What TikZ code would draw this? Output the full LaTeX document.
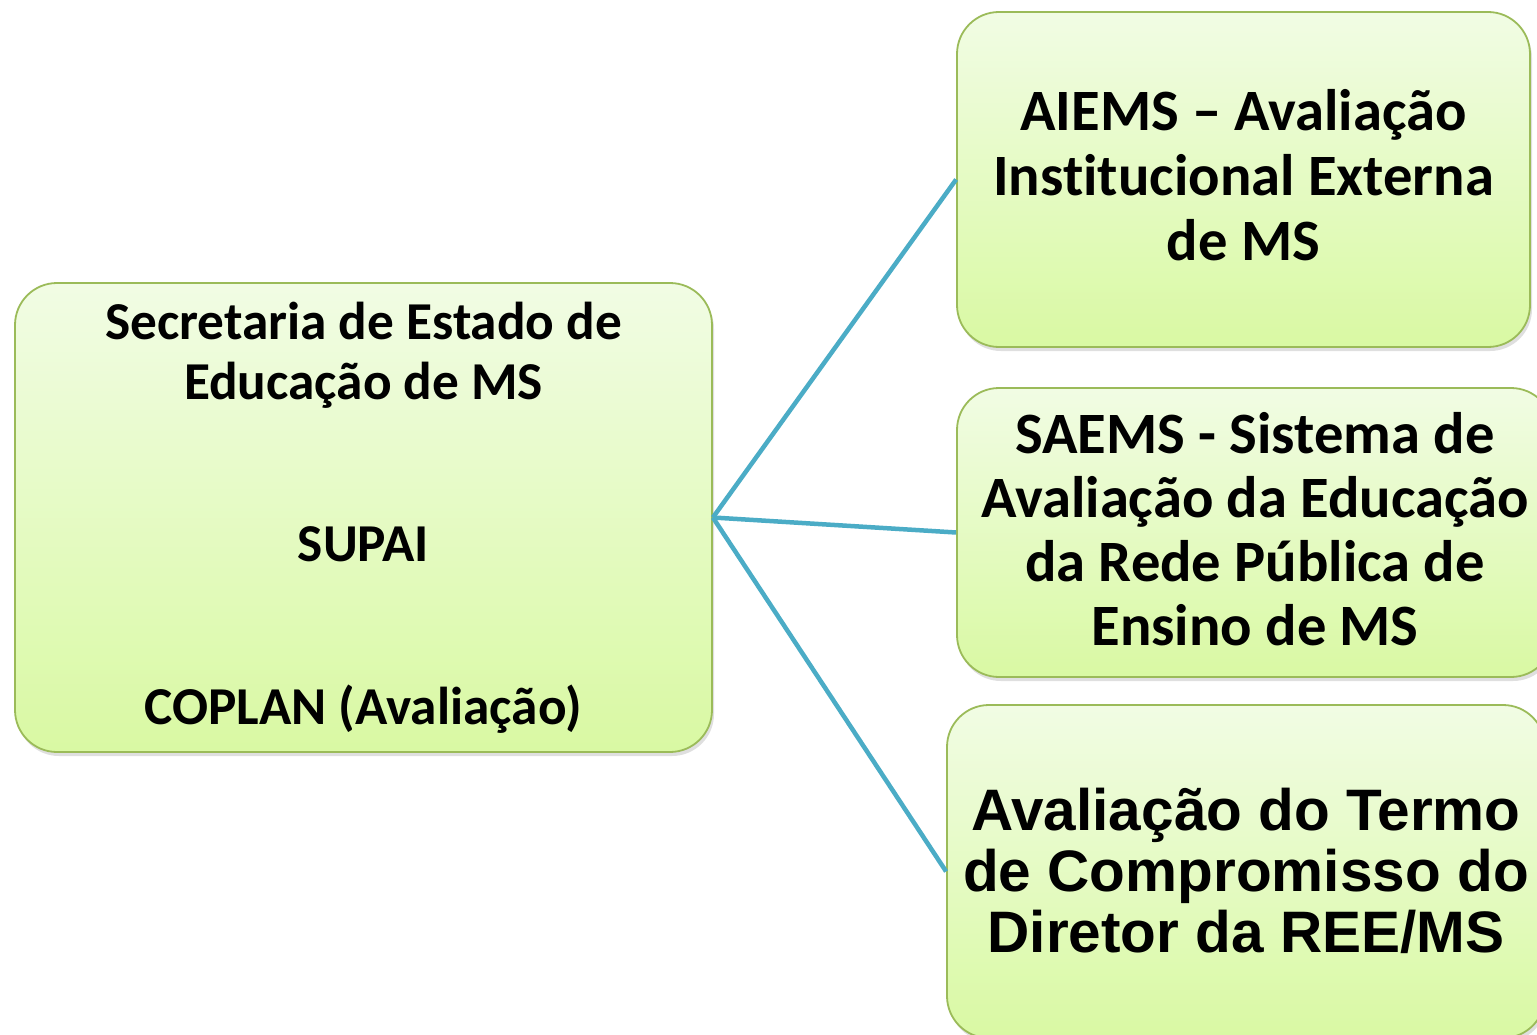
\documentclass[tikz,border=0pt]{standalone}
\usepackage{fontspec}
\newfontfamily\calfont[Ligatures=NoCommon]{Carlito}
\newfontfamily\arfont{Liberation Sans}
\usetikzlibrary{shadows}
\definecolor{boxtop}{HTML}{F1FCE4}
\definecolor{boxbot}{HTML}{D9F9A3}
\definecolor{boxline}{HTML}{9BBB59}
\definecolor{linkc}{HTML}{4BACC6}
\tikzset{
  gbox/.style={draw=boxline, line width=1.8pt, rounded corners=42pt,
    top color=boxtop, bottom color=boxbot, align=center, inner sep=0pt,
    drop shadow={opacity=0.25, shadow xshift=2pt, shadow yshift=-4pt}},
  link/.style={draw=linkc, line width=4.5pt}
}
\begin{document}
\begin{tikzpicture}[x=1pt,y=-1pt]
\clip (0,0) rectangle (1537,1035);
\fill[white] (0,0) rectangle (1537,1035);
\node[gbox, minimum width=697pt, minimum height=469pt,
  font={\calfont\bfseries\fontsize{53.3}{60}\selectfont}] (sec) at (363.5,517.5)
  {Secretaria de Estado de\\Educação de MS\\[102pt]SUPAI\\[103pt]COPLAN (Avaliação)\rule[-3pt]{0pt}{3pt}};
\node[gbox, minimum width=573pt, minimum height=335pt,
  font={\calfont\bfseries\fontsize{58.6}{65}\selectfont}] (aiems) at (1243.5,179.5)
  {AIEMS – Avaliação\\Institucional Externa\\de MS\rule[-9pt]{0pt}{9pt}};
\node[gbox, minimum width=596pt, minimum height=289pt,
  font={\calfont\bfseries\fontsize{58.6}{64}\selectfont}] (saems) at (1255,532.5)
  {SAEMS - Sistema de\\Avaliação da Educação\\da Rede Pública de\\Ensino de MS\rule[-7pt]{0pt}{7pt}};
\node[gbox, minimum width=598pt, minimum height=333pt,
  font={\arfont\bfseries\fontsize{58.5}{61}\selectfont}] (termo) at (1246,871.5)
  {Avaliação do Termo\\de Compromisso do\\Diretor da REE/MS\rule[-2pt]{0pt}{2pt}};
\draw[link] (sec.east) -- (aiems.west);
\draw[link] (sec.east) -- (saems.west);
\draw[link] (sec.east) -- (termo.west);
\end{tikzpicture}
\end{document}
